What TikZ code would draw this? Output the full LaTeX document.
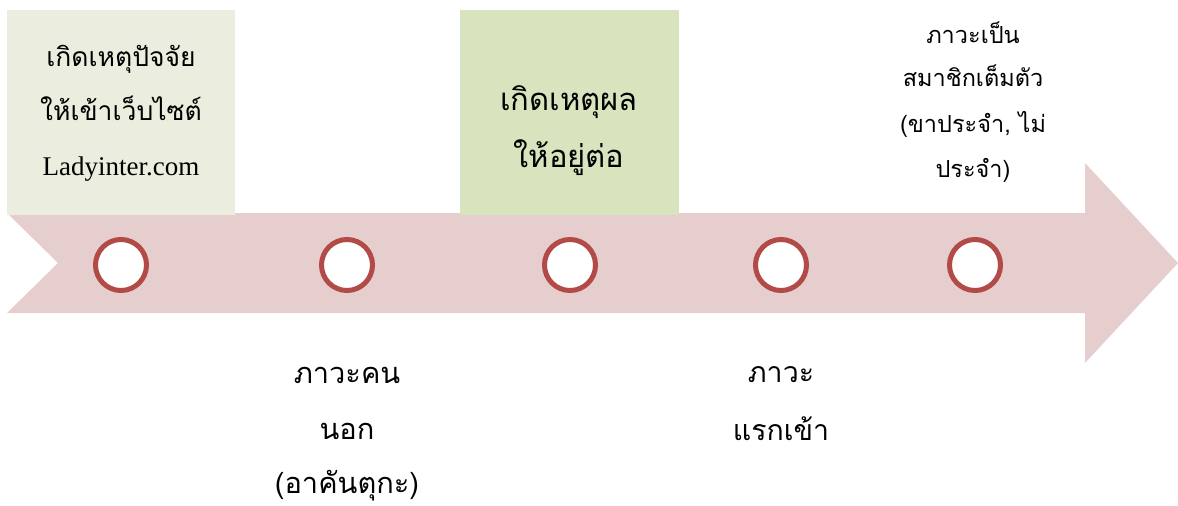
\documentclass[tikz,border=0pt]{standalone}
\usepackage{fontspec}
\setmainfont{Liberation Serif}
\newfontfamily\thai[Script=Thai]{Loma}
\definecolor{arrowpink}{HTML}{E6CECE}
\definecolor{ringred}{HTML}{B24A48}
\definecolor{paleolive}{HTML}{EBEEDF}
\definecolor{palegreen}{HTML}{D7E4BD}
\begin{document}
\begin{tikzpicture}[x=1pt,y=-1pt,
  ring/.style={circle,draw=ringred,line width=5pt,fill=white,minimum size=51pt,inner sep=0pt},
  lbl/.style={align=center,inner sep=0pt,text=black,anchor=base},
  boxa/.style={fill=paleolive,draw=none},
  boxb/.style={fill=palegreen,draw=none}]
\useasboundingbox (0,0) rectangle (1178,506);
% arrow
\fill[arrowpink] (7,213) -- (1085,213) -- (1085,163) -- (1178,263) -- (1085,363) -- (1085,313) -- (7,313) -- (58,263) -- cycle;
% boxes
\fill[boxa] (7,10) rectangle (235,215);
\fill[boxb] (460,10) rectangle (679,215);
% rings
\node[ring] (c1) at (121,265) {};
\node[ring] (c2) at (347,265) {};
\node[ring] (c3) at (570,265) {};
\node[ring] (c4) at (781,265) {};
\node[ring] (c5) at (975,265) {};
% texts
\node[lbl] (t1a) at (121,66) {\thai\fontsize{26.5}{30}\selectfont เกิดเหตุปัจจัย};
\node[lbl] (t1b) at (121,120) {\thai\fontsize{26.5}{30}\selectfont ให้เข้าเว็บไซต์};
\node[lbl] (t1c) at (121,175) {\fontsize{27}{30}\selectfont Ladyinter.com};
\node[lbl] (t2a) at (569,110) {\thai\fontsize{31}{34}\selectfont เกิดเหตุผล};
\node[lbl] (t2b) at (569,167) {\thai\fontsize{31}{34}\selectfont ให้อยู่ต่อ};
\node[lbl] (t3a) at (973,43) {\thai\fontsize{23.5}{28}\selectfont ภาวะเป็น};
\node[lbl] (t3b) at (973,86) {\thai\fontsize{23.5}{28}\selectfont สมาชิกเต็มตัว};
\node[lbl] (t3c) at (973,132) {\thai\fontsize{23.5}{28}\selectfont (ขาประจำ, ไม่};
\node[lbl] (t3d) at (973,177) {\thai\fontsize{23.5}{28}\selectfont ประจำ)};
\node[lbl] (t4a) at (347,383) {\thai\fontsize{29}{30}\selectfont ภาวะคน};
\node[lbl] (t4b) at (347,439) {\thai\fontsize{29}{30}\selectfont นอก};
\node[lbl] (t4c) at (347,493) {\thai\fontsize{29}{30}\selectfont (อาคันตุกะ)};
\node[lbl] (t5a) at (781,382) {\thai\fontsize{28.5}{30}\selectfont ภาวะ};
\node[lbl] (t5b) at (781,440) {\thai\fontsize{28.5}{30}\selectfont แรกเข้า};
\end{tikzpicture}
\end{document}
